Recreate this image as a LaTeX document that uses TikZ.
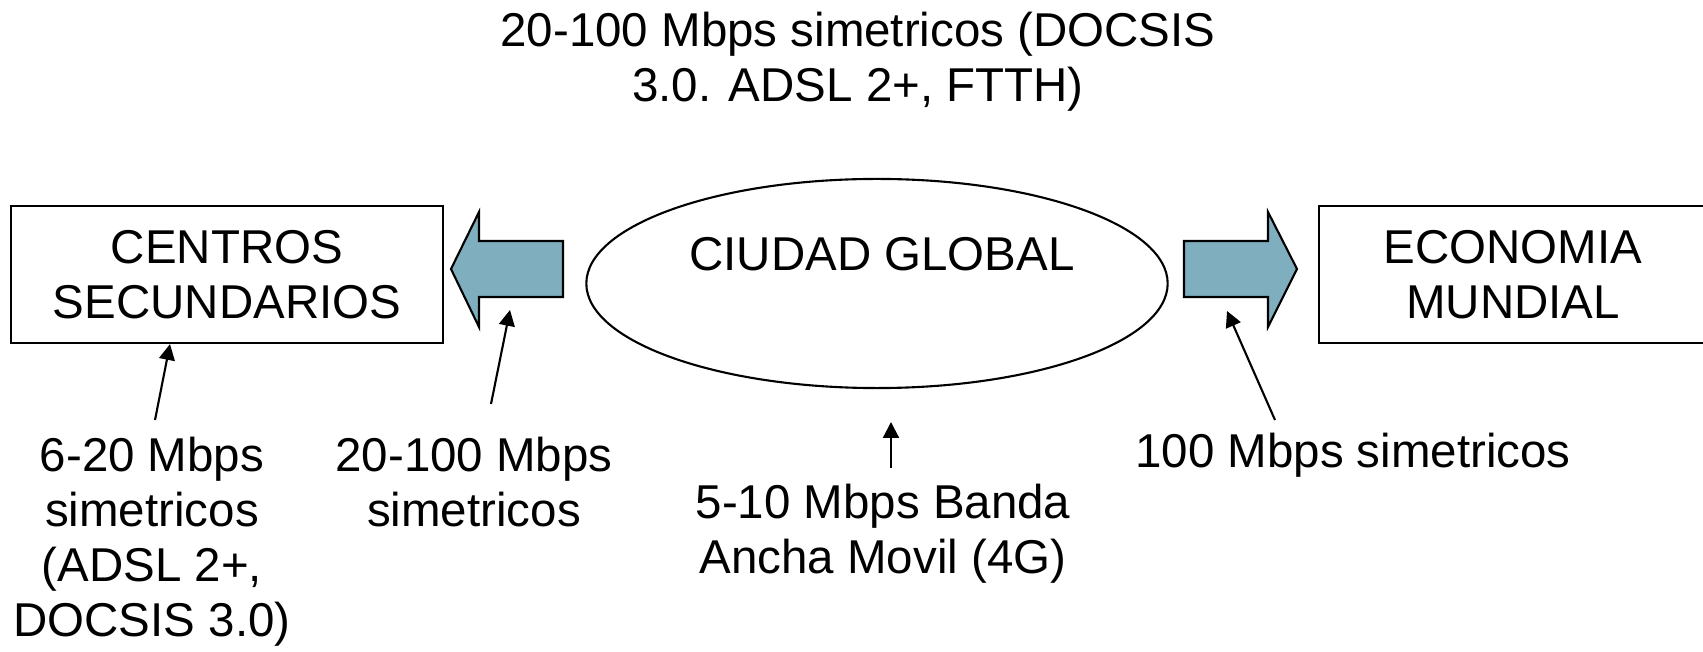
\documentclass[tikz,border=0pt]{standalone}
\usepackage{fontspec}
\setmainfont{Liberation Sans}
\usetikzlibrary{shapes,arrows,positioning,calc,arrows.meta}
\definecolor{flechaazul}{RGB}{127,175,190}

\begin{document}
\begin{tikzpicture}[x=0.01cm,y=-0.01cm,
    every node/.style={font=\fontsize{13.5}{15.6}\selectfont, align=center},
    caja/.style={draw, line width=0.6pt, minimum height=1.37cm},
    bloque/.style={draw, line width=0.6pt, fill=flechaazul},
    flecha/.style={-{Triangle[length=4.5pt,width=4.5pt]}, line width=0.6pt}]
    \useasboundingbox (0,0) rectangle (1703,652);

    % centro y destinos
    \node[ellipse, draw, line width=0.6pt, minimum width=5.81cm, minimum height=2.09cm] (ciudad) at (877,283.5) {};
    \node (ciudadtxt) at (882,254) {CIUDAD GLOBAL};
    \node[caja, minimum width=4.32cm] (centros) at (227,274.5) {CENTROS\\SECUNDARIOS};
    \node[caja, minimum width=3.88cm] (economia) at (1513,274.5) {ECONOMIA\\MUNDIAL};
    \node (arriba) at (858,62) {20-100 Mbps simetricos (DOCSIS\\3.0. ADSL 2+, FTTH)};

    % flechas gruesas
    \draw[bloque] (451,269) -- (479,212) -- (479,241) -- (563,241) -- (563,297) -- (479,297) -- (479,327) -- cycle;
    \draw[bloque] (1297,269) -- (1268,212) -- (1268,241) -- (1184,241) -- (1184,297) -- (1268,297) -- (1268,327) -- cycle;

    % velocidades
    \node (vel1) at (152,542) {6-20 Mbps\\simetricos\\(ADSL 2+,\\DOCSIS 3.0)};
    \node (vel2) at (474,482) {20-100 Mbps\\simetricos};
    \node (vel3) at (883,534) {5-10 Mbps Banda\\Ancha Movil (4G)};
    \node (vel4) at (1353,455) {100 Mbps simetricos};

    \coordinate (p1) at (155,420);
    \coordinate (p2) at (491,404);
    \coordinate (p3) at (891,468);
    \coordinate (p4) at (1275,420);
    \coordinate (q2) at (510,310);
    \coordinate (q3) at (891,422);
    \coordinate (q4) at (1227,311);
    \draw[flecha] (p1) -- (centros.south -| 170,0);
    \draw[flecha] (p2) -- (q2);
    \draw[flecha] (p3) -- (q3);
    \draw[flecha] (p4) -- (q4);
\end{tikzpicture}
\end{document}
